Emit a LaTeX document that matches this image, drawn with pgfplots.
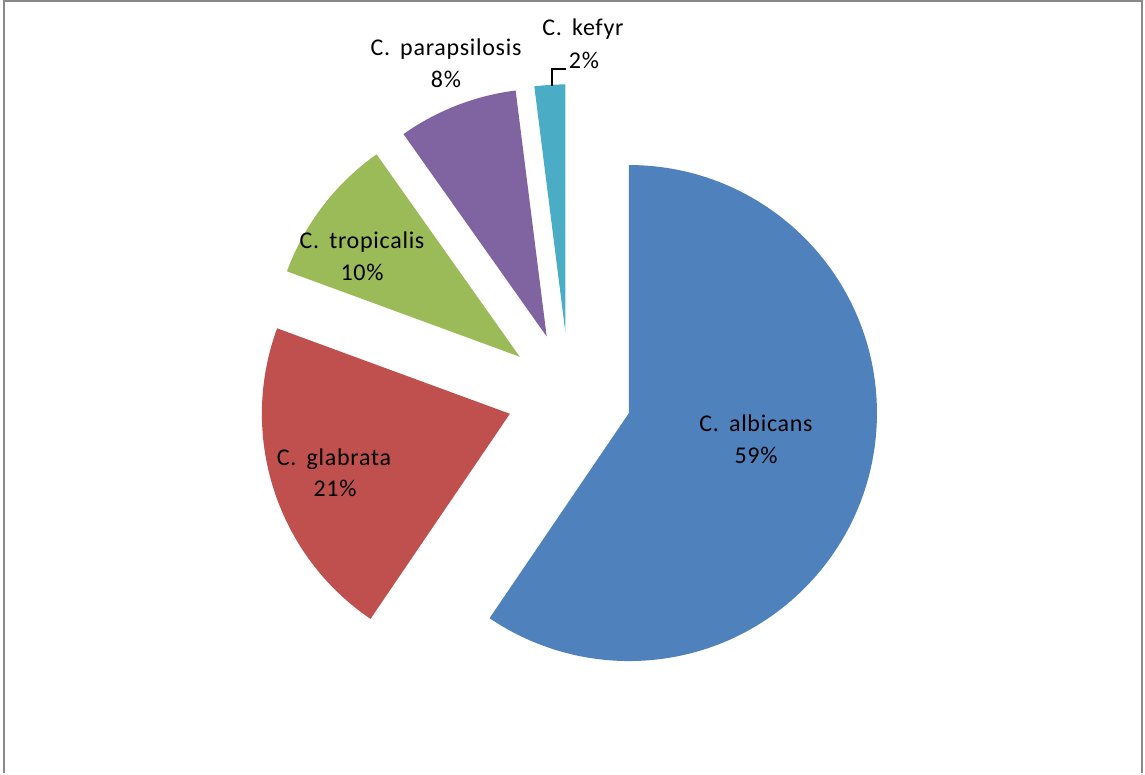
\documentclass[border=0pt]{standalone}
\usepackage{pgfplots}
\pgfplotsset{compat=1.18}
\usepackage{fontspec}
\setmainfont{Carlito}
\definecolor{albicans}{HTML}{4F81BD}
\definecolor{glabrata}{HTML}{C0504D}
\definecolor{tropicalis}{HTML}{9BBB59}
\definecolor{parapsilosis}{HTML}{8064A2}
\definecolor{kefyr}{HTML}{4BACC6}
\definecolor{frame}{HTML}{898989}
% pie centre (before explosion), explosion distance, radius (axis units = pt)
\def\pcx{569.3}\def\pcy{378.3}\def\pexp{62.4}\def\prad{248}
% #1 cumulative start value (%), #2 value (%), #3 colour
\newcommand\slice[3]{%
  \pgfmathsetmacro\aS{90-3.6*#1}%
  \pgfmathsetmacro\aE{90-3.6*(#1+#2)}%
  \pgfmathsetmacro\aM{(\aS+\aE)/2}%
  \pgfmathsetmacro\spx{\pcx+\pexp*cos(\aM)}%
  \pgfmathsetmacro\spy{\pcy+\pexp*sin(\aM)}%
  \edef\tmp{\noexpand\fill[#3] (axis cs:\spx,\spy) -- ++(\aS:\prad pt) arc[start angle=\aS, end angle=\aE, radius=\prad pt] -- cycle;}%
  \tmp}
\begin{document}
\begin{tikzpicture}
\begin{axis}[x=1pt,y=1pt,xmin=0,xmax=1145,ymin=0,ymax=773,
  hide axis, clip=false, scale only axis]
\path (axis cs:0,0) rectangle (axis cs:1145,773);
\draw[frame, line width=2pt] (axis cs:4,0) -- (axis cs:4,771.5) -- (axis cs:1142,771.5) -- (axis cs:1142,0);
% data: 59.5, 21.1, 9.6, 7.8, 2.0 (%)
\slice{0}{59.5}{albicans}
\slice{59.5}{21.1}{glabrata}
\slice{80.6}{9.6}{tropicalis}
\slice{90.2}{7.8}{parapsilosis}
\slice{98.0}{2.0}{kefyr}
\draw[black, line width=1.3pt] (axis cs:552,687) -- (axis cs:552,704) -- (axis cs:566,704);
\begin{scope}[every node/.style={anchor=base, inner sep=0pt, font=\fontsize{24}{32}\selectfont\addfontfeatures{LetterSpace=3}}]
\node at (axis cs:756,341) {C.\, albicans};
\node at (axis cs:756,309) {59\%};
\node at (axis cs:334,307) {C.\, glabrata};
\node at (axis cs:335,276) {21\%};
\node at (axis cs:362,524) {C.\, tropicalis};
\node at (axis cs:362,492) {10\%};
\node at (axis cs:446,717) {C.\, parapsilosis};
\node at (axis cs:446,685) {8\%};
\node at (axis cs:583,737) {C.\, kefyr};
\node at (axis cs:584,704) {2\%};
\end{scope}
\end{axis}
\end{tikzpicture}
\end{document}
